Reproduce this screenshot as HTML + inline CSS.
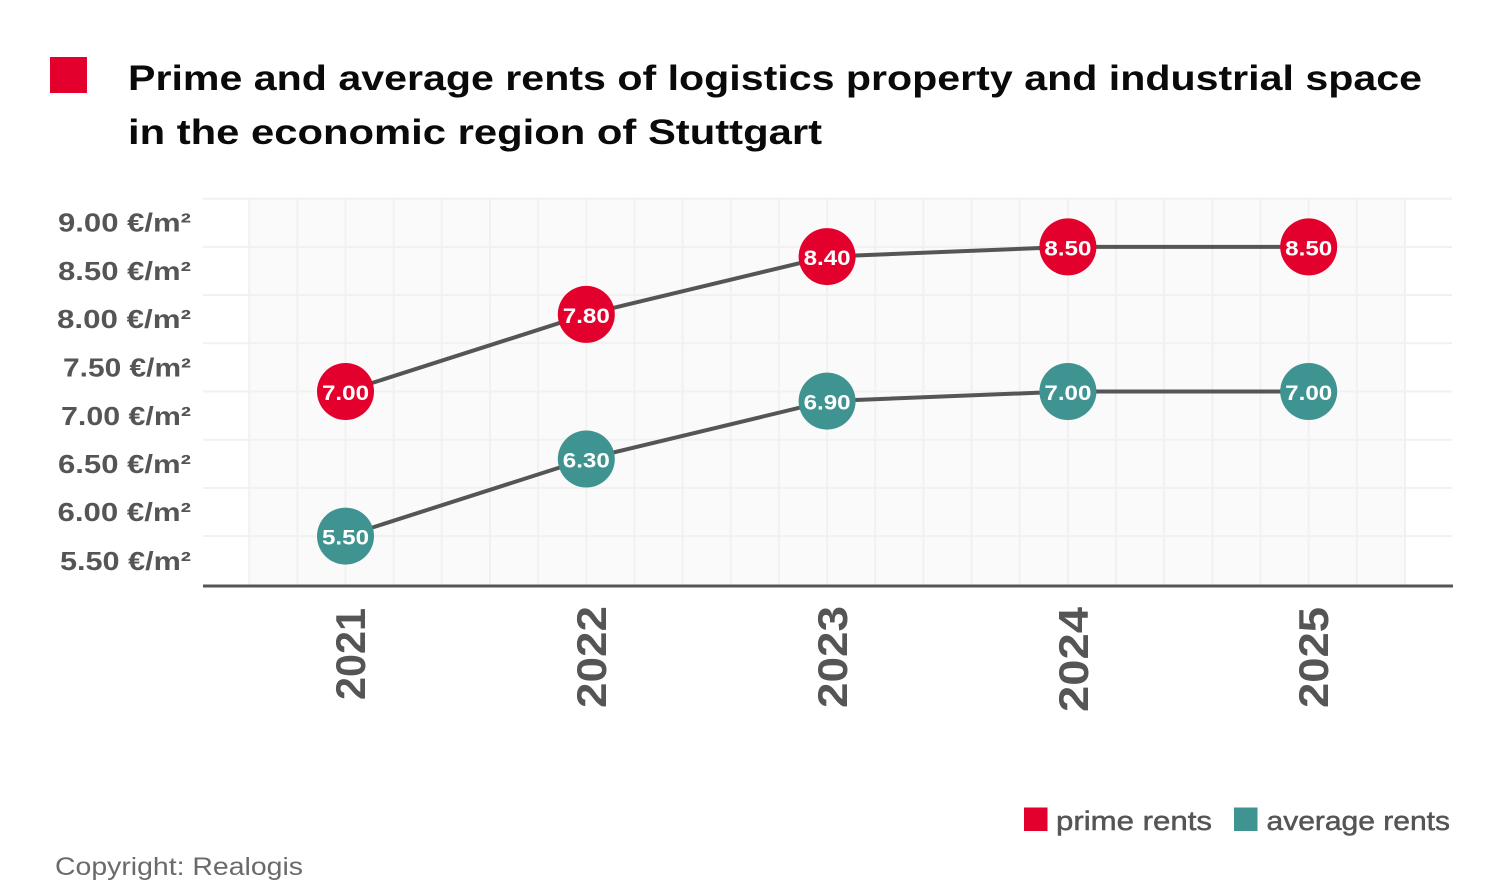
<!DOCTYPE html>
<html>
<head>
<meta charset="utf-8">
<style>
html,body{margin:0;padding:0;background:#fff;}
svg{display:block;}
text{font-family:"Liberation Sans","DejaVu Sans",sans-serif;}
</style>
</head>
<body>
<svg width="1506" height="886" viewBox="0 0 1506 886" xmlns="http://www.w3.org/2000/svg">
  <rect x="0" y="0" width="1506" height="886" fill="#ffffff"/>

  <!-- Title -->
  <rect x="50" y="57" width="37" height="36" fill="#e3002c"/>
  <text x="128" y="90" font-size="35" font-weight="bold" fill="#0a0a0a" textLength="1294" lengthAdjust="spacingAndGlyphs">Prime and average rents of logistics property and industrial space</text>
  <text x="128" y="144" font-size="35" font-weight="bold" fill="#0a0a0a" textLength="694" lengthAdjust="spacingAndGlyphs">in the economic region of Stuttgart</text>

  <!-- Plot background -->
  <rect x="249" y="199" width="1156" height="386" fill="#fafafa"/>
  <!-- vertical gridlines -->
  <g stroke="#f1f1f1" stroke-width="2">
    <line x1="249.2" y1="199" x2="249.2" y2="585"/>
    <line x1="297.4" y1="199" x2="297.4" y2="585"/>
    <line x1="345.5" y1="199" x2="345.5" y2="585"/>
    <line x1="393.7" y1="199" x2="393.7" y2="585"/>
    <line x1="441.8" y1="199" x2="441.8" y2="585"/>
    <line x1="490.0" y1="199" x2="490.0" y2="585"/>
    <line x1="538.1" y1="199" x2="538.1" y2="585"/>
    <line x1="586.3" y1="199" x2="586.3" y2="585"/>
    <line x1="634.5" y1="199" x2="634.5" y2="585"/>
    <line x1="682.6" y1="199" x2="682.6" y2="585"/>
    <line x1="730.8" y1="199" x2="730.8" y2="585"/>
    <line x1="778.9" y1="199" x2="778.9" y2="585"/>
    <line x1="827.1" y1="199" x2="827.1" y2="585"/>
    <line x1="875.3" y1="199" x2="875.3" y2="585"/>
    <line x1="923.4" y1="199" x2="923.4" y2="585"/>
    <line x1="971.6" y1="199" x2="971.6" y2="585"/>
    <line x1="1019.7" y1="199" x2="1019.7" y2="585"/>
    <line x1="1067.9" y1="199" x2="1067.9" y2="585"/>
    <line x1="1116.1" y1="199" x2="1116.1" y2="585"/>
    <line x1="1164.2" y1="199" x2="1164.2" y2="585"/>
    <line x1="1212.4" y1="199" x2="1212.4" y2="585"/>
    <line x1="1260.5" y1="199" x2="1260.5" y2="585"/>
    <line x1="1308.7" y1="199" x2="1308.7" y2="585"/>
    <line x1="1356.8" y1="199" x2="1356.8" y2="585"/>
    <line x1="1405.0" y1="199" x2="1405.0" y2="585"/>
  </g>
  <!-- horizontal gridlines -->
  <g stroke="#f1f1f1" stroke-width="2">
    <line x1="203" y1="198.7" x2="1452" y2="198.7"/>
    <line x1="203" y1="246.9" x2="1452" y2="246.9"/>
    <line x1="203" y1="295.1" x2="1452" y2="295.1"/>
    <line x1="203" y1="343.3" x2="1452" y2="343.3"/>
    <line x1="203" y1="391.5" x2="1452" y2="391.5"/>
    <line x1="203" y1="439.7" x2="1452" y2="439.7"/>
    <line x1="203" y1="487.9" x2="1452" y2="487.9"/>
    <line x1="203" y1="536.1" x2="1452" y2="536.1"/>
  </g>

  <!-- x axis -->
  <line x1="203" y1="586" x2="1453" y2="586" stroke="#555555" stroke-width="3"/>

  <!-- y labels -->
  <g font-size="26" font-weight="bold" fill="#555555">
    <text x="58" y="231.5" textLength="133" lengthAdjust="spacingAndGlyphs">9.00 €/m²</text>
    <text x="58" y="280" textLength="133" lengthAdjust="spacingAndGlyphs">8.50 €/m²</text>
    <text x="57" y="328" textLength="134" lengthAdjust="spacingAndGlyphs">8.00 €/m²</text>
    <text x="63" y="376.5" textLength="128" lengthAdjust="spacingAndGlyphs">7.50 €/m²</text>
    <text x="61" y="425" textLength="130" lengthAdjust="spacingAndGlyphs">7.00 €/m²</text>
    <text x="58" y="473" textLength="133" lengthAdjust="spacingAndGlyphs">6.50 €/m²</text>
    <text x="57.5" y="521" textLength="133.5" lengthAdjust="spacingAndGlyphs">6.00 €/m²</text>
    <text x="60" y="570" textLength="131" lengthAdjust="spacingAndGlyphs">5.50 €/m²</text>
  </g>

  <!-- x labels (rotated) -->
  <g font-size="42" font-weight="bold" fill="#555555">
    <text transform="translate(365,700) rotate(-90)" textLength="92" lengthAdjust="spacingAndGlyphs">2021</text>
    <text transform="translate(606,708) rotate(-90)" textLength="102" lengthAdjust="spacingAndGlyphs">2022</text>
    <text transform="translate(847,708) rotate(-90)" textLength="102" lengthAdjust="spacingAndGlyphs">2023</text>
    <text transform="translate(1088,712) rotate(-90)" textLength="105" lengthAdjust="spacingAndGlyphs">2024</text>
    <text transform="translate(1328,708) rotate(-90)" textLength="101" lengthAdjust="spacingAndGlyphs">2025</text>
  </g>

  <!-- series lines -->
  <polyline points="345.5,391.5 586.3,314.4 827.1,256.6 1067.9,246.9 1308.7,246.9" fill="none" stroke="#555555" stroke-width="4" stroke-linejoin="round"/>
  <polyline points="345.5,536.1 586.3,459.0 827.1,401.1 1067.9,391.5 1308.7,391.5" fill="none" stroke="#555555" stroke-width="4" stroke-linejoin="round"/>

  <!-- prime markers -->
  <g fill="#e3002c">
    <circle cx="345.5" cy="391.5" r="28.5"/>
    <circle cx="586.3" cy="314.4" r="28.5"/>
    <circle cx="827.1" cy="256.6" r="28.5"/>
    <circle cx="1067.9" cy="246.9" r="28.5"/>
    <circle cx="1308.7" cy="246.9" r="28.5"/>
  </g>
  <!-- average markers -->
  <g fill="#3f9391">
    <circle cx="345.5" cy="536.1" r="28.5"/>
    <circle cx="586.3" cy="459.0" r="28.5"/>
    <circle cx="827.1" cy="401.1" r="28.5"/>
    <circle cx="1067.9" cy="391.5" r="28.5"/>
    <circle cx="1308.7" cy="391.5" r="28.5"/>
  </g>

  <!-- marker labels -->
  <g font-size="21" font-weight="bold" fill="#ffffff">
    <text x="322" y="400" textLength="47" lengthAdjust="spacingAndGlyphs">7.00</text>
    <text x="562.8" y="323" textLength="47" lengthAdjust="spacingAndGlyphs">7.80</text>
    <text x="803.6" y="265" textLength="47" lengthAdjust="spacingAndGlyphs">8.40</text>
    <text x="1044.4" y="255.5" textLength="47" lengthAdjust="spacingAndGlyphs">8.50</text>
    <text x="1285.2" y="255.5" textLength="47" lengthAdjust="spacingAndGlyphs">8.50</text>
    <text x="322" y="544.5" textLength="47" lengthAdjust="spacingAndGlyphs">5.50</text>
    <text x="562.8" y="467.5" textLength="47" lengthAdjust="spacingAndGlyphs">6.30</text>
    <text x="803.6" y="409.5" textLength="47" lengthAdjust="spacingAndGlyphs">6.90</text>
    <text x="1044.4" y="400" textLength="47" lengthAdjust="spacingAndGlyphs">7.00</text>
    <text x="1285.2" y="400" textLength="47" lengthAdjust="spacingAndGlyphs">7.00</text>
  </g>

  <!-- legend -->
  <rect x="1024" y="807.5" width="23.5" height="23.5" fill="#e3002c"/>
  <text x="1056" y="830" font-size="27" fill="#555555" stroke="#555555" stroke-width="0.5" textLength="156" lengthAdjust="spacingAndGlyphs">prime rents</text>
  <rect x="1234" y="807.5" width="23.5" height="23.5" fill="#3f9391"/>
  <text x="1266.5" y="830" font-size="27" fill="#555555" stroke="#555555" stroke-width="0.5" textLength="183.5" lengthAdjust="spacingAndGlyphs">average rents</text>

  <!-- copyright -->
  <text x="55" y="875" font-size="25" fill="#6a6a6a" textLength="248" lengthAdjust="spacingAndGlyphs">Copyright: Realogis</text>
</svg>
</body>
</html>
